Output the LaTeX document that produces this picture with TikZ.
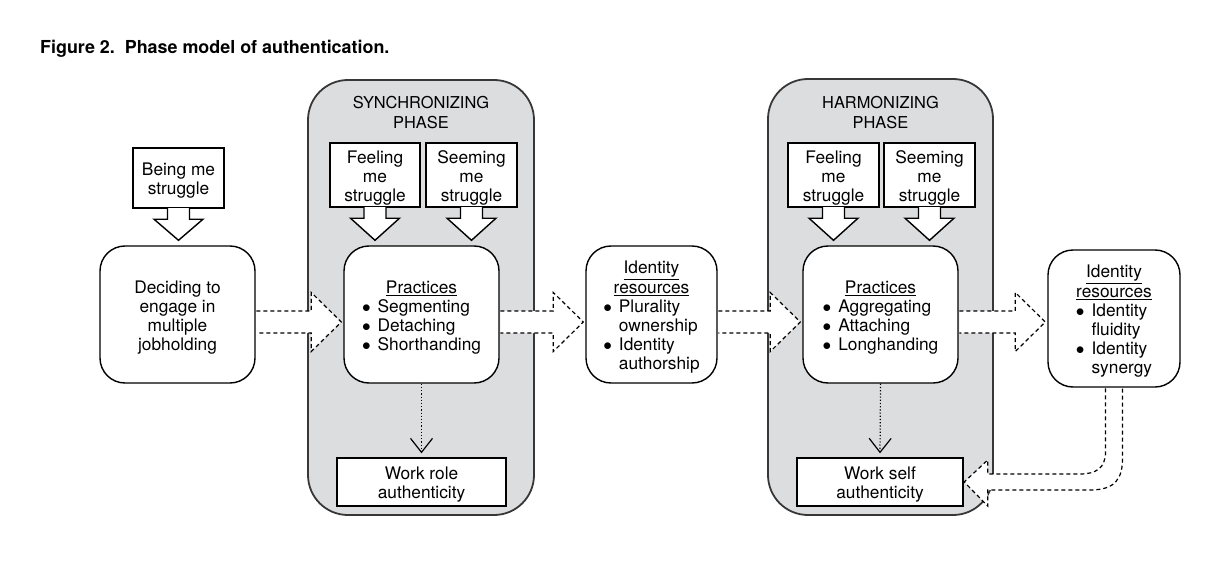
\documentclass[tikz,border=0pt]{standalone}
\usepackage{fontspec}
\setmainfont{TeX Gyre Heros}
\usetikzlibrary{calc,arrows.meta,positioning}

\definecolor{phasegray}{RGB}{220,221,223}
\definecolor{phaseline}{RGB}{55,55,55}

% text lowered a little inside its box, box size kept
\newcommand{\drop}[1]{\raisebox{-3.5pt}[\height][\depth]{#1}}
\newcommand{\lines}[1]{\drop{\begin{tabular}{@{}c@{}}#1\end{tabular}}}
\newcommand{\itm}{$\bullet$}

\begin{document}
\begin{tikzpicture}[
      x=1pt, y=-1pt,
      every node/.style={font=\fontsize{17.3}{19.2}\selectfont, inner sep=0pt},
      Phase/.style={draw=phaseline, fill=phasegray, line width=1.8pt, rounded corners=40pt},
      PhaseLabel/.style={align=center, font=\fontsize{16.4}{20}\selectfont},
      Box/.style={draw, fill=white, line width=1.4pt, align=center},
      Round/.style={Box, rounded corners=25pt},
      Callout/.style={draw, fill=white, line width=1.4pt, line join=miter},
      Fat/.style={draw, fill=white, line width=1.2pt, dash pattern=on 4pt off 3pt},
      Down/.style={dotted, line width=1.2pt, shorten >=4pt,
        -{Straight Barb[length=14pt, width=22pt, line width=1.2pt]}},
      ]
      \useasboundingbox (0,0) rectangle (1220,572);

      \node[anchor=base west, font=\bfseries\fontsize{17.9}{20}\selectfont] (title) at (40,54)
        {Figure 2.\ \ Phase model of authentication.};

      % phases
      \node[Phase, minimum width=226pt, minimum height=435pt] (sync) at (421,297.5) {};
      \node[Phase, minimum width=225pt, minimum height=436pt] (harm) at (880.5,297) {};
      \node[PhaseLabel] (synclab) at (421,113) {SYNCHRONIZING\\PHASE};
      \node[PhaseLabel] (harmlab) at (880.5,113) {HARMONIZING\\PHASE};

      % struggles
      \node[Box, minimum width=91pt, minimum height=60pt] (being) at (178.5,178) {\lines{Being me\\struggle}};
      \node[Box, minimum width=90pt, minimum height=64pt] (feel1) at (375,175) {\lines{Feeling\\me\\struggle}};
      \node[Box, minimum width=91pt, minimum height=64pt] (seem1) at (471.5,175) {\lines{Seeming\\me\\struggle}};
      \node[Box, minimum width=91pt, minimum height=64pt] (feel2) at (833.5,175) {\lines{Feeling\\me\\struggle}};
      \node[Box, minimum width=91pt, minimum height=64pt] (seem2) at (929.5,175) {\lines{Seeming\\me\\struggle}};

      % main row
      \node[Round, minimum width=155pt, minimum height=137pt] (decide) at (177.5,314.5)
        {\lines{Deciding to\\engage in\\multiple\\jobholding}};
      \node[Round, minimum width=155pt, minimum height=137pt] (prac1) at (421.5,314.5)
        {\drop{\begin{tabular}{@{}l@{\hspace{7pt}}l@{}}
          \multicolumn{2}{@{}c@{}}{\underline{Practices}}\\
          \itm & Segmenting\\
          \itm & Detaching\\
          \itm & Shorthanding
        \end{tabular}}};
      \node[Round, minimum width=131pt, minimum height=137pt] (res1) at (651.5,314.5)
        {\drop{\begin{tabular}{@{}l@{\hspace{7pt}}l@{}}
          \multicolumn{2}{@{}c@{}}{\underline{Identity}}\\
          \multicolumn{2}{@{}c@{}}{\underline{resources}}\\
          \itm & Plurality\\
          & ownership\\
          \itm & Identity\\
          & authorship
        \end{tabular}}};
      \node[Round, minimum width=155pt, minimum height=137pt] (prac2) at (880.5,314.5)
        {\drop{\begin{tabular}{@{}l@{\hspace{7pt}}l@{}}
          \multicolumn{2}{@{}c@{}}{\underline{Practices}}\\
          \itm & Aggregating\\
          \itm & Attaching\\
          \itm & Longhanding
        \end{tabular}}};
      \node[Round, minimum width=132pt, minimum height=137pt] (res2) at (1114,318.5)
        {\drop{\begin{tabular}{@{}l@{\hspace{7pt}}l@{}}
          \multicolumn{2}{@{}c@{}}{\underline{Identity}}\\
          \multicolumn{2}{@{}c@{}}{\underline{resources}}\\
          \itm & Identity\\
          & fluidity\\
          \itm & Identity\\
          & synergy
        \end{tabular}}};

      % outcomes
      \node[Box, minimum width=169pt, minimum height=48pt] (role) at (421.5,482) {\lines{Work role\\authenticity}};
      \node[Box, minimum width=166pt, minimum height=48pt] (self) at (880,482) {\lines{Work self\\authenticity}};

      % struggle arrows
      \foreach \n/\m in {being/decide, feel1/prac1, seem1/prac1, feel2/prac2, seem2/prac2}
        \draw[Callout] ($(\n.south)+(11,-0.7)$) -- ++(0,11.2) -- ++(13.5,0)
          -- ($(\n.south |- \m.north)+(0,-5)$) -- ($(\n.south)+(-24.5,10.5)$)
          -- ++(13.5,0) -- ++(0,-11.2);

      % dashed fat arrows
      \coordinate (row) at (0,322);
      \foreach \a/\b in {decide/prac1, prac1/res1, res1/prac2, prac2/res2}
        \draw[Fat] ($(\a.east |- row)+(0.7,-11)$) -- ($(\b.west |- row)+(-32,-11)$)
          -- ++(0,-18.5) -- ($(\b.west |- row)+(-2,0)$) -- ($(\b.west |- row)+(-32,29.5)$)
          -- ++(0,-18.5) -- ($(\a.east |- row)+(0.7,11)$);

      \coordinate (bend) at (res2.south |- self.east);
      \draw[Fat] ($(res2.south)+(-8.5,0.7)$) -- ($(bend)+(-8.5,-30)$)
        .. controls ($(bend)+(-8.5,-14)$) and ($(bend)+(-18,-8)$) .. ($(bend)+(-34,-8)$)
        -- ($(self.east)+(24,-8)$) -- ++(0,-14) -- ($(self.east)+(0.5,0)$)
        -- ($(self.east)+(24,24)$) -- ++(0,-16)
        -- ($(bend)+(-24,8)$) .. controls ($(bend)+(2,8)$) and ($(bend)+(8.5,-4)$) .. ($(bend)+(8.5,-24)$)
        -- ($(res2.south)+(8.5,0.7)$);

      % dotted arrows
      \draw[Down] (prac1.south) -- (role.north);
      \draw[Down] (prac2.south) -- (self.north);
    \end{tikzpicture}
\end{document}
